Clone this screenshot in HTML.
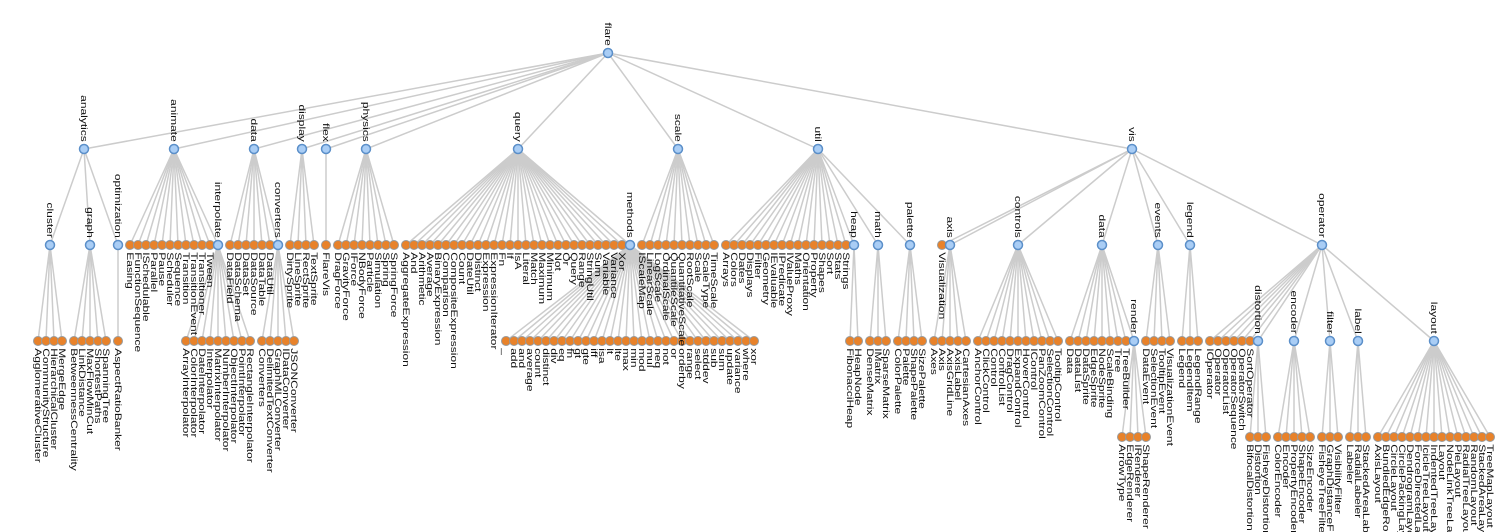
<!DOCTYPE html>
<html><head><meta charset="utf-8"><style>
html,body{margin:0;padding:0;background:#fff;}
svg{display:block;}
text{font-family:"Liberation Sans",Arial,sans-serif;font-size:10px;fill:#111;}
.link{fill:none;stroke:#ccc;stroke-width:1.5px;}
.inner{fill:#a9cdf5;stroke:#5b8fc9;stroke-width:1.5px;}
.leaf{fill:#e8822a;stroke:#9a9a9a;stroke-width:1px;}
</style></head><body>
<svg id="chart" width="1508" height="532"></svg>
<script>
// hierarchy data: [name, children?]
const treeData = ["flare",[
 ["analytics",[
  ["cluster",[["AgglomerativeCluster"],["CommunityStructure"],["HierarchicalCluster"],["MergeEdge"]]],
  ["graph",[["BetweennessCentrality"],["LinkDistance"],["MaxFlowMinCut"],["ShortestPaths"],["SpanningTree"]]],
  ["optimization",[["AspectRatioBanker"]]]]],
 ["animate",[["Easing"],["FunctionSequence"],["ISchedulable"],["Parallel"],["Pause"],["Scheduler"],["Sequence"],["Transition"],["TransitionEvent"],["Transitioner"],["Tween"],
  ["interpolate",[["ArrayInterpolator"],["ColorInterpolator"],["DateInterpolator"],["Interpolator"],["MatrixInterpolator"],["NumberInterpolator"],["ObjectInterpolator"],["PointInterpolator"],["RectangleInterpolator"]]]]],
 ["data",[["DataField"],["DataSchema"],["DataSet"],["DataSource"],["DataTable"],["DataUtil"],
  ["converters",[["Converters"],["DelimitedTextConverter"],["GraphMLConverter"],["IDataConverter"],["JSONConverter"]]]]],
 ["display",[["DirtySprite"],["LineSprite"],["RectSprite"],["TextSprite"]]],
 ["flex",[["FlareVis"]]],
 ["physics",[["DragForce"],["GravityForce"],["IForce"],["NBodyForce"],["Particle"],["Simulation"],["Spring"],["SpringForce"]]],
 ["query",[["AggregateExpression"],["And"],["Arithmetic"],["Average"],["BinaryExpression"],["Comparison"],["CompositeExpression"],["Count"],["DateUtil"],["Distinct"],["Expression"],["ExpressionIterator"],["Fn"],["If"],["IsA"],["Literal"],["Match"],["Maximum"],["Minimum"],["Not"],["Or"],["Query"],["Range"],["StringUtil"],["Sum"],["Variable"],["Variance"],["Xor"],
  ["methods",[["_"],["add"],["and"],["average"],["count"],["distinct"],["div"],["eq"],["fn"],["gt"],["gte"],["iff"],["isa"],["lt"],["lte"],["max"],["min"],["mod"],["mul"],["neq"],["not"],["or"],["orderby"],["range"],["select"],["stddev"],["sub"],["sum"],["update"],["variance"],["where"],["xor"]]]]],
 ["scale",[["IScaleMap"],["LinearScale"],["LogScale"],["OrdinalScale"],["QuantileScale"],["QuantitativeScale"],["RootScale"],["Scale"],["ScaleType"],["TimeScale"]]],
 ["util",[["Arrays"],["Colors"],["Dates"],["Displays"],["Filter"],["Geometry"],["IEvaluable"],["IPredicate"],["IValueProxy"],["Maths"],["Orientation"],["Property"],["Shapes"],["Sort"],["Stats"],["Strings"],
  ["heap",[["FibonacciHeap"],["HeapNode"]]],
  ["math",[["DenseMatrix"],["IMatrix"],["SparseMatrix"]]],
  ["palette",[["ColorPalette"],["Palette"],["ShapePalette"],["SizePalette"]]]]],
 ["vis",[["Visualization"],
  ["axis",[["Axes"],["Axis"],["AxisGridLine"],["AxisLabel"],["CartesianAxes"]]],
  ["controls",[["AnchorControl"],["ClickControl"],["Control"],["ControlList"],["DragControl"],["ExpandControl"],["HoverControl"],["IControl"],["PanZoomControl"],["SelectionControl"],["TooltipControl"]]],
  ["data",[["Data"],["DataList"],["DataSprite"],["EdgeSprite"],["NodeSprite"],["ScaleBinding"],["Tree"],["TreeBuilder"],
   ["render",[["ArrowType"],["EdgeRenderer"],["IRenderer"],["ShapeRenderer"]]]]],
  ["events",[["DataEvent"],["SelectionEvent"],["TooltipEvent"],["VisualizationEvent"]]],
  ["legend",[["Legend"],["LegendItem"],["LegendRange"]]],
  ["operator",[["IOperator"],["Operator"],["OperatorList"],["OperatorSequence"],["OperatorSwitch"],["SortOperator"],
   ["distortion",[["BifocalDistortion"],["Distortion"],["FisheyeDistortion"]]],
   ["encoder",[["ColorEncoder"],["Encoder"],["PropertyEncoder"],["ShapeEncoder"],["SizeEncoder"]]],
   ["filter",[["FisheyeTreeFilter"],["GraphDistanceFilter"],["VisibilityFilter"]]],
   ["label",[["Labeler"],["RadialLabeler"],["StackedAreaLabeler"]]],
   ["layout",[["AxisLayout"],["BundledEdgeRouter"],["CircleLayout"],["CirclePackingLayout"],["DendrogramLayout"],["ForceDirectedLayout"],["IcicleTreeLayout"],["IndentedTreeLayout"],["Layout"],["NodeLinkTreeLayout"],["PieLayout"],["RadialTreeLayout"],["RandomLayout"],["StackedAreaLayout"],["TreeMapLayout"]]]]]]]
]];

const X0 = 38, X1 = 1490, Y0 = 53, DY = 96;

function build(d, parent, i, depth){
  const n = {name:d[0], parent, i, depth, children:null, A:null, z:0, m:0, c:0, s:0, t:null};
  n.a = n;
  if (d[1]) n.children = d[1].map((c,k)=>build(c,n,k,depth+1));
  return n;
}
const sep = (a,b)=> a.parent===b.parent ? 1 : 1.5;
const nextLeft = v => v.children ? v.children[0] : v.t;
const nextRight = v => v.children ? v.children[v.children.length-1] : v.t;
function moveSubtree(wm,wp,shift){const ch=shift/(wp.i-wm.i);wp.c-=ch;wp.s+=shift;wm.c+=ch;wp.z+=shift;wp.m+=shift;}
function executeShifts(v){let shift=0,change=0;const c=v.children;for(let i=c.length-1;i>=0;i--){const w=c[i];w.z+=shift;w.m+=shift;shift+=w.s+(change+=w.c);}}
const nextAncestor=(vim,v,anc)=> vim.a.parent===v.parent ? vim.a : anc;
function apportion(v,w,anc){
  if(w){
    let vip=v,vop=v,vim=w,vom=vip.parent.children[0],sip=vip.m,sop=vop.m,sim=vim.m,som=vom.m,shift;
    while(vim=nextRight(vim),vip=nextLeft(vip),vim&&vip){
      vom=nextLeft(vom);vop=nextRight(vop);vop.a=v;
      shift=vim.z+sim-vip.z-sip+sep(vim,vip);
      if(shift>0){moveSubtree(nextAncestor(vim,v,anc),v,shift);sip+=shift;sop+=shift;}
      sim+=vim.m;sip+=vip.m;som+=vom.m;sop+=vop.m;
    }
    if(vim&&!nextRight(vop)){vop.t=vim;vop.m+=sim-sop;}
    if(vip&&!nextLeft(vom)){vom.t=vip;vom.m+=sip-som;anc=v;}
  }
  return anc;
}
function firstWalk(v){
  if(v.children) v.children.forEach(firstWalk);
  const sib=v.parent.children, w=v.i?sib[v.i-1]:null;
  if(v.children){executeShifts(v);const mid=(v.children[0].z+v.children[v.children.length-1].z)/2;
    if(w){v.z=w.z+sep(v,w);v.m=v.z-mid;}else v.z=mid;}
  else if(w) v.z=w.z+sep(v,w);
  v.parent.A=apportion(v,w,v.parent.A||sib[0]);
}
const all=[];
function secondWalk(v){v.x=v.z+v.parent.m;v.m+=v.parent.m;all.push(v);if(v.children)v.children.forEach(secondWalk);}

const root=build(treeData,null,0,0);
const fake={children:[root],m:0,A:null};root.parent=fake;
firstWalk(root);fake.m=-root.z;secondWalk(root);
let mn=Infinity,mx=-Infinity;all.forEach(n=>{mn=Math.min(mn,n.x);mx=Math.max(mx,n.x);});
const sx=v=>X0+(v-mn)/(mx-mn)*(X1-X0);
const sy=d=>Y0+d*DY;

const NS="http://www.w3.org/2000/svg";
const svg=document.getElementById("chart");
const gl=document.createElementNS(NS,"g");


svg.appendChild(gl);
const gn=document.createElementNS(NS,"g");


svg.appendChild(gn);
all.forEach(n=>{
  if(n.parent!==fake){
    const l=document.createElementNS(NS,"line");
    l.setAttribute("class","link");
    l.setAttribute("x1",sx(n.parent.x));l.setAttribute("y1",sy(n.parent.depth));
    l.setAttribute("x2",sx(n.x));l.setAttribute("y2",sy(n.depth));
    
    
    gl.appendChild(l);
  }
});
all.forEach(n=>{
  const g=document.createElementNS(NS,"g");
  g.setAttribute("transform",`translate(${sx(n.x)},${sy(n.depth)})`);
  
  
  const c=document.createElementNS(NS,"circle");
  c.setAttribute("r",4.5);
  c.setAttribute("class",n.children?"inner":"leaf");
  
  
  g.appendChild(c);
  const t=document.createElementNS(NS,"text");
  t.setAttribute("transform","rotate(90) scale(1.2,0.9)");
  t.setAttribute("dy","0.35em");
  if(n.children){t.setAttribute("x",-6);t.setAttribute("text-anchor","end");}
  else{t.setAttribute("x",6);}
  t.textContent=n.name;
  
  
  g.appendChild(t);
  gn.appendChild(g);
});
</script>
</body></html>
